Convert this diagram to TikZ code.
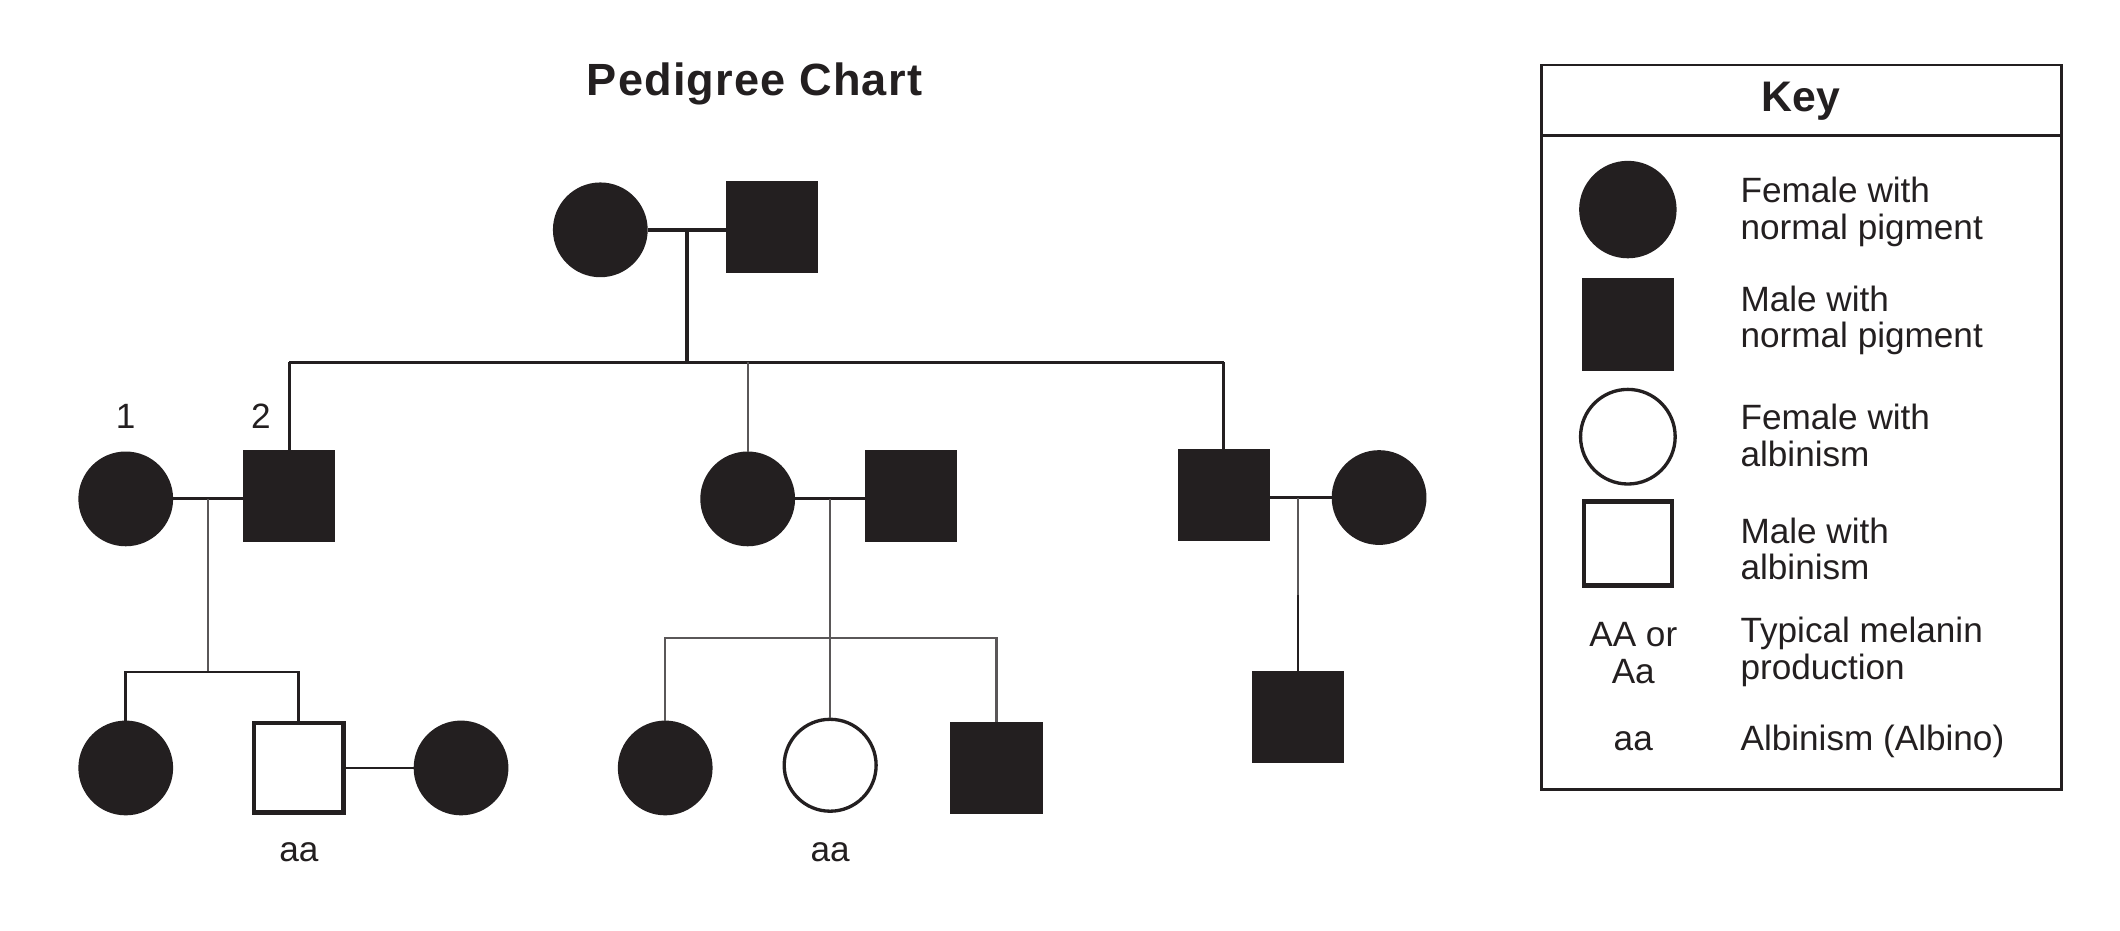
\documentclass[tikz,border=0pt]{standalone}
\usepackage{fontspec}
\setmainfont{Liberation Sans}
\definecolor{ink}{HTML}{231F20}
\begin{document}
\begin{tikzpicture}[x=0.02cm,y=-0.02cm,
  fem/.style={circle,draw=ink,fill=ink,line width=1.2pt,minimum size=1.36cm,inner sep=0pt},
  mal/.style={rectangle,draw=ink,fill=ink,line width=1.2pt,minimum size=1.32cm,inner sep=0pt},
  afem/.style={fem,fill=white,line width=1.4pt},
  amal/.style={mal,fill=white,line width=1.8pt},
  ln/.style={draw=ink,line width=1.2pt},
  lnt/.style={draw=ink!75,line width=0.9pt},
  txt/.style={font=\fontsize{14.8}{15.5}\selectfont,text=ink,inner sep=0pt},
  keyt/.style={txt,anchor=west,align=left}]
\useasboundingbox (0,0) rectangle (1568,688);
\node[font=\fontsize{19}{22}\selectfont\bfseries,text=ink] (title) at (558,62) {P\kern0.5pt e\kern0.5pt d\kern0.5pt i\kern0.5pt g\kern0.5pt r\kern0.5pt e\kern0.5pt e\kern0.5pt\ C\kern0.5pt h\kern0.5pt a\kern0.5pt r\kern0.5pt t};
% generation 1
\node[fem] (g1f) at (444,170) {};
\node[mal] (g1m) at (571,168) {};
\draw[ln,line width=1.8pt] (g1f.east) -- (g1m.west|-g1f.east);
\coordinate (j1) at (508,170);
\coordinate (h1) at (508,268);
\draw[ln,line width=1.8pt] (j1) -- (h1);
\coordinate (hl) at (214,268);
\coordinate (hm) at (553,268);
\coordinate (hr) at (905,268);
\draw[ln] (hl) -- (hr);
% generation 2
\node[fem] (a1) at (93,369) {};
\node[mal] (a2) at (214,367) {};
\node[fem] (b1) at (553,369) {};
\node[mal] (b2) at (674,367) {};
\node[mal] (c1) at (905,366) {};
\node[fem] (c2) at (1020,368) {};
\draw[ln] (hl) -- (a2.north);
\draw[lnt] (hm) -- (b1.north);
\draw[ln] (hr) -- (c1.north);
\node[txt] (n1) at (93,308) {1};
\node[txt] (n2) at (193,308) {2};
\draw[ln] (a1.east) -- (a2.west|-a1.east);
\draw[ln] (b1.east) -- (b2.west|-b1.east);
\draw[ln] (c1.east|-c2.west) -- (c2.west);
% generation 3 left
\coordinate (ja) at (154,369);
\coordinate (ha) at (154,497);
\draw[lnt] (ja) -- (ha);
\node[fem] (d1) at (93,568) {};
\node[amal] (d2) at (221,568) {};
\node[fem] (d3) at (341,568) {};
\coordinate (hal) at (93,497);
\coordinate (har) at (221,497);
\draw[ln] (d1.north) -- (hal) -- (har) -- (d2.north);
\draw[ln] (d2.east) -- (d3.west);
\node[txt] (aa1) at (221,630) {aa};
% generation 3 middle
\coordinate (jb) at (614,369);
\coordinate (hb) at (614,472);
\draw[lnt] (jb) -- (hb);
\node[fem] (e1) at (492,568) {};
\node[afem] (e2) at (614,566) {};
\node[mal] (e3) at (737,568) {};
\coordinate (hbl) at (492,472);
\coordinate (hbr) at (737,472);
\draw[lnt] (e1.north) -- (hbl) -- (hbr) -- (e3.north);
\draw[lnt] (hb) -- (e2.north);
\node[txt] (aa2) at (614,630) {aa};
% generation 3 right
\node[mal] (f1) at (960,530) {};
\coordinate (jc) at (960,368);
\draw[lnt] (jc) -- (960,440);
\draw[ln] (960,440) -- (f1.north);
% key
\node[draw=ink,line width=1.2pt,minimum width=7.7cm,minimum height=10.72cm,inner sep=0pt] (key) at (1332.5,316) {};
\draw[ln] (1140,100) -- (1525,100);
\node[font=\fontsize{18}{20}\selectfont\bfseries,text=ink] (keyt) at (1332,75) {Key};
\node[fem,minimum size=1.4cm] (k1) at (1204,155) {};
\node[mal] (k2) at (1204,240) {};
\node[afem,minimum size=1.4cm] (k3) at (1204,323) {};
\node[amal,minimum width=1.3cm,minimum height=1.24cm] (k4) at (1204,402) {};
\node[txt,align=center] (k5) at (1208,483) {AA or\\Aa};
\node[txt] (k6) at (1208,548) {aa};
\node[keyt] (t1) at (1287,157) {Female with\\normal pigment};
\node[keyt] (t2) at (1287,237) {Male with\\normal pigment};
\node[keyt] (t3) at (1287,322) {Female with\\albinism};
\node[keyt] (t4) at (1287,406) {Male with\\albinism};
\node[keyt] (t5) at (1287,482) {Typical melanin\\production};
\node[keyt] (t6) at (1287,548) {Albinism (Albino)};
\end{tikzpicture}
\end{document}
